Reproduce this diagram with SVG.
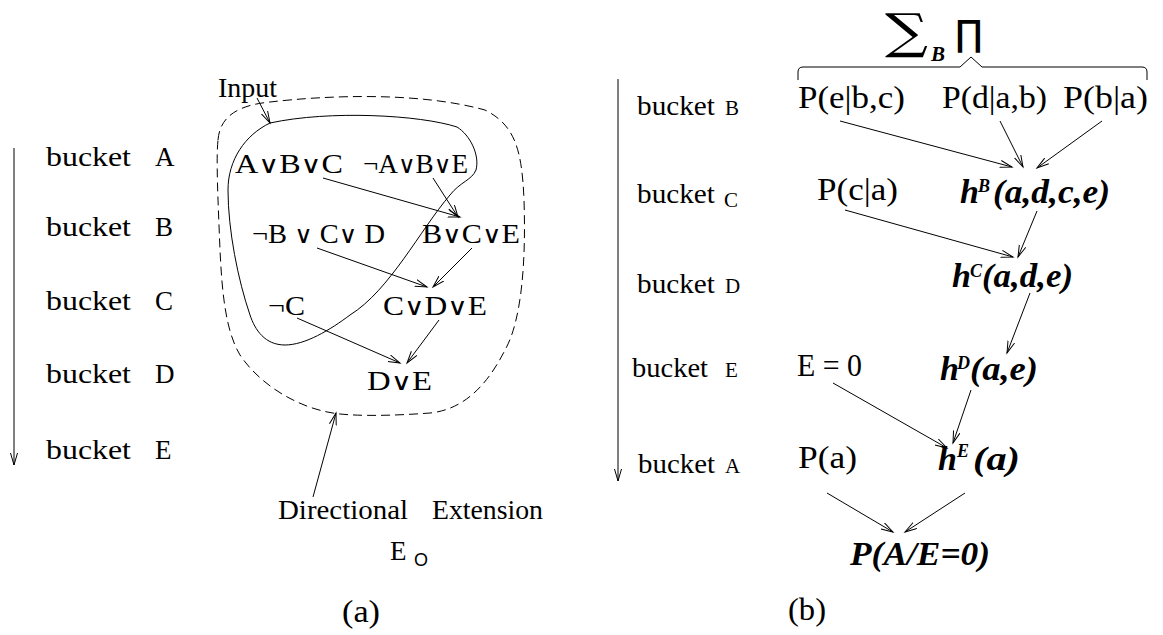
<svg xmlns="http://www.w3.org/2000/svg" width="1163" height="635" viewBox="0 0 1163 635">
<style>
text{font-family:"Liberation Serif","DejaVu Serif",serif;fill:#000}
.bk{font-size:27px}
.lt{font-size:21px}
.cl{font-size:27px}
.or{font-family:"DejaVu Serif",serif;font-size:24px;font-weight:normal}
.p{font-size:32px}
.bi{font-size:34px;font-weight:bold;font-style:italic}
.sup{font-size:18px;font-weight:bold;font-style:italic}
.ln{fill:none;stroke:#000;stroke-width:1}
.ar{fill:none;stroke:#000;stroke-width:1;marker-end:url(#ah)}
</style>
<defs>
<marker id="ah" markerUnits="userSpaceOnUse" markerWidth="14" markerHeight="10" refX="12" refY="4" orient="auto">
<path d="M0,0.5 L12,4 L0,7.5" fill="none" stroke="#000" stroke-width="1"/>
</marker>
</defs>
<rect width="1163" height="635" fill="#fff"/>

<g id="order-a">
<line class="ar" x1="14" y1="148" x2="14" y2="465"/>
<text class="bk" x="46" y="166" textLength="85" lengthAdjust="spacingAndGlyphs">bucket</text><text class="bk" x="155" y="166">A</text>
<text class="bk" x="46" y="236" textLength="85" lengthAdjust="spacingAndGlyphs">bucket</text><text class="bk" x="155" y="236">B</text>
<text class="bk" x="46" y="310" textLength="85" lengthAdjust="spacingAndGlyphs">bucket</text><text class="bk" x="155" y="310">C</text>
<text class="bk" x="46" y="383" textLength="85" lengthAdjust="spacingAndGlyphs">bucket</text><text class="bk" x="155" y="383">D</text>
<text class="bk" x="46" y="459" textLength="85" lengthAdjust="spacingAndGlyphs">bucket</text><text class="bk" x="155" y="459">E</text>
</g>

<g id="regions-a">
<path class="ln" d="M270,123 C330,110 420,115 457,127 C470,135 480,155 476,170 C472,180 460,182 450,195 C420,230 390,290 350,315 C330,330 305,345 285,345 C265,345 255,330 250,315 C238,280 228,230 228,190 C228,160 245,135 270,123 Z"/>
<path class="ln" stroke-dasharray="9,5" d="M218,140 C220,115 240,105 270,102 C330,95 420,92 485,110 C515,125 522,150 524,200 C526,260 522,320 505,350 C485,390 460,410 430,413 C390,416 360,416 340,414 C300,410 260,385 240,355 C225,330 222,290 220,250 C218,200 216,160 218,140 Z"/>
</g>

<g id="input-label">
<text class="cl" x="218" y="97" textLength="59" lengthAdjust="spacingAndGlyphs">Input</text>
</g>
<g id="ext-label">
<text class="cl" x="278" y="519" textLength="130" lengthAdjust="spacingAndGlyphs">Directional</text>
<text class="cl" x="432" y="519" textLength="111" lengthAdjust="spacingAndGlyphs">Extension</text>
<text class="cl" x="390" y="560">E</text>
<text x="414" y="566" style="font-family:'Liberation Sans',sans-serif;font-size:18px">O</text>
</g>

<g id="clause1"><text class="cl" x="235" y="173" textLength="108" lengthAdjust="spacingAndGlyphs">A<tspan class="or">∨</tspan>B<tspan class="or">∨</tspan>C</text></g>
<g id="clause2"><text class="cl" x="363" y="173" textLength="105" lengthAdjust="spacingAndGlyphs">¬A<tspan class="or">∨</tspan>B<tspan class="or">∨</tspan>E</text></g>
<g id="clause3"><text class="cl" x="252" y="243" textLength="133" lengthAdjust="spacingAndGlyphs">¬B <tspan class="or">∨</tspan> C<tspan class="or">∨</tspan> D</text></g>
<g id="clause4"><text class="cl" x="422" y="243" textLength="98" lengthAdjust="spacingAndGlyphs">B<tspan class="or">∨</tspan>C<tspan class="or">∨</tspan>E</text></g>
<g id="clause5"><text class="cl" x="268" y="315" textLength="37" lengthAdjust="spacingAndGlyphs">¬C</text></g>
<g id="clause6"><text class="cl" x="383" y="315" textLength="104" lengthAdjust="spacingAndGlyphs">C<tspan class="or">∨</tspan>D<tspan class="or">∨</tspan>E</text></g>
<g id="clause7"><text class="cl" x="367" y="390" textLength="65" lengthAdjust="spacingAndGlyphs">D<tspan class="or">∨</tspan>E</text></g>

<g id="order-b">
<line class="ar" x1="618" y1="79" x2="618" y2="481"/>
<text class="bk" x="637" y="115" textLength="78" lengthAdjust="spacingAndGlyphs">bucket</text><text class="lt" x="725" y="115">B</text>
<text class="bk" x="637" y="203" textLength="78" lengthAdjust="spacingAndGlyphs">bucket</text><text class="lt" x="724" y="207">C</text>
<text class="bk" x="637" y="293" textLength="78" lengthAdjust="spacingAndGlyphs">bucket</text><text class="lt" x="725" y="293">D</text>
<text class="bk" x="632" y="377" textLength="76" lengthAdjust="spacingAndGlyphs">bucket</text><text class="lt" x="725" y="377">E</text>
<text class="bk" x="638" y="473" textLength="77" lengthAdjust="spacingAndGlyphs">bucket</text><text class="lt" x="725" y="473">A</text>
</g>

<g id="sumprod">
<text x="885" y="48" textLength="43" lengthAdjust="spacingAndGlyphs" style="font-family:'DejaVu Serif',serif;font-size:48px">∑</text>
<text class="sup" x="931" y="61" style="font-size:21px">B</text>
<text x="955" y="46" textLength="28" lengthAdjust="spacingAndGlyphs" style="font-family:'DejaVu Sans',sans-serif;font-size:36px">∏</text>
<path class="ln" d="M798,80 L798,72 Q798,67 803,67 L960,67 L971,57 L982,67 L1142,67 Q1147,67 1147,72 L1147,80"/>
</g>

<g id="peb"><text class="p" x="798" y="108" textLength="107" lengthAdjust="spacingAndGlyphs">P(e|b,c)</text></g>
<g id="pdab"><text class="p" x="942" y="108" textLength="105" lengthAdjust="spacingAndGlyphs">P(d|a,b)</text></g>
<g id="pba"><text class="p" x="1063" y="108" textLength="85" lengthAdjust="spacingAndGlyphs">P(b|a)</text></g>
<g id="pca"><text class="p" x="817" y="200" textLength="81" lengthAdjust="spacingAndGlyphs">P(c|a)</text></g>
<g id="hB"><text class="bi" x="960" y="203">h</text><text class="sup" x="978" y="192">B</text><text class="bi" x="993" y="203" textLength="117" lengthAdjust="spacingAndGlyphs">(a,d,c,e)</text></g>
<g id="hC"><text class="bi" x="952" y="287">h</text><text class="sup" x="970" y="277">C</text><text class="bi" x="982" y="287" textLength="91" lengthAdjust="spacingAndGlyphs">(a,d,e)</text></g>
<g id="e0"><text class="p" x="797" y="376" textLength="65" lengthAdjust="spacingAndGlyphs">E = 0</text></g>
<g id="hD"><text class="bi" x="940" y="380">h</text><text class="sup" x="957" y="369">D</text><text class="bi" x="970" y="380" textLength="68" lengthAdjust="spacingAndGlyphs">(a,e)</text></g>
<g id="pa"><text class="p" x="798" y="468" textLength="59" lengthAdjust="spacingAndGlyphs">P(a)</text></g>
<g id="hE"><text class="bi" x="938" y="470">h</text><text class="sup" x="957" y="457">E</text><text class="bi" x="973" y="470" textLength="47" lengthAdjust="spacingAndGlyphs">(a)</text></g>
<g id="result"><text class="bi" x="850" y="565" textLength="140" lengthAdjust="spacingAndGlyphs">P(A/E=0)</text></g>

<g id="captions">
<text x="342" y="622" textLength="38" lengthAdjust="spacingAndGlyphs" style="font-size:32px">(a)</text>
<text x="788" y="620" textLength="38" lengthAdjust="spacingAndGlyphs" style="font-size:32px">(b)</text>
</g>

<g id="connectors">
<line class="ar" x1="257" y1="98" x2="270" y2="123"/>
<line class="ar" x1="313" y1="497" x2="336" y2="413"/>
<line class="ar" x1="323" y1="178" x2="460" y2="217"/>
<line class="ar" x1="433" y1="178" x2="458" y2="217"/>
<line class="ar" x1="317" y1="248" x2="427" y2="287"/>
<line class="ar" x1="472" y1="248" x2="433" y2="287"/>
<line class="ar" x1="297" y1="318" x2="400" y2="363"/>
<line class="ar" x1="439" y1="320" x2="407" y2="363"/>
<line class="ar" x1="840" y1="121" x2="1012" y2="167"/>
<line class="ar" x1="1000" y1="121" x2="1023" y2="167"/>
<line class="ar" x1="1102" y1="121" x2="1037" y2="168"/>
<line class="ar" x1="845" y1="210" x2="1013" y2="257"/>
<line class="ar" x1="1037" y1="211" x2="1018" y2="257"/>
<line class="ar" x1="1030" y1="293" x2="1007" y2="353"/>
<line class="ar" x1="833" y1="383" x2="947" y2="448"/>
<line class="ar" x1="971" y1="390" x2="953" y2="443"/>
<line class="ar" x1="827" y1="493" x2="893" y2="532"/>
<line class="ar" x1="965" y1="493" x2="905" y2="532"/>
</g>
</svg>
